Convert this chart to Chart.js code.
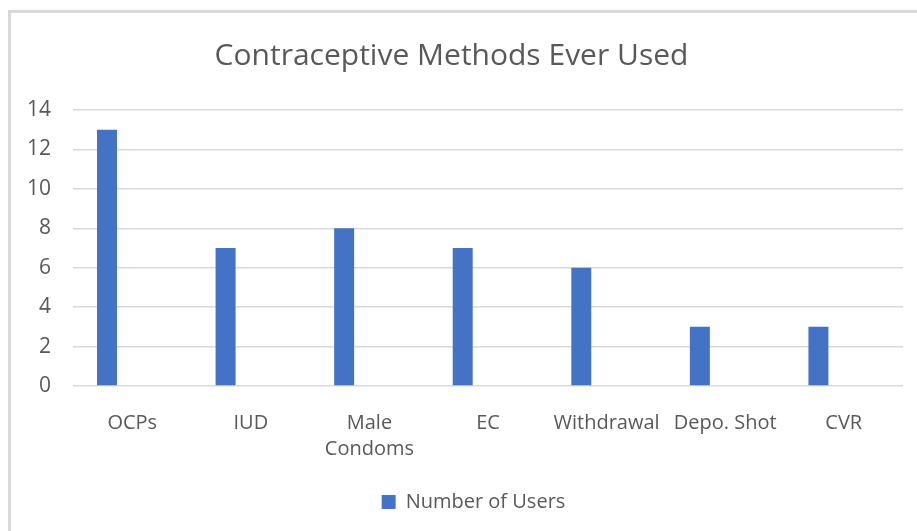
<!DOCTYPE html>
<html>
<head>
<meta charset="utf-8">
<title>Contraceptive Methods Ever Used</title>
<script src="https://cdn.jsdelivr.net/npm/chart.js@4/dist/chart.umd.min.js"></script>
<style>
    html, body { margin: 0; padding: 0; background: #fff; overflow: hidden; }
    #frame {
        position: absolute; left: 8px; top: 10px;
        width: 1000px; height: 600px;
        border-top: 3px solid #d9d9d9; border-left: 3px solid #d9d9d9;
    }
    #wrap { position: absolute; left: 0; top: 0; width: 917px; height: 531px; }
</style>
</head>
<body>
<div id="frame"></div>
<div id="wrap"><canvas id="methodsChart"></canvas></div>
<script>
// Chart data
const methods = ['OCPs', 'IUD', ['Male', 'Condoms'], 'EC', 'Withdrawal', 'Depo. Shot', 'CVR'];
const users = [13, 7, 8, 7, 6, 3, 3];
const yTicks = [0, 2, 4, 6, 8, 10, 12, 14];

const textColor = '#595959';
const barColor = '#4472C4';
const gridColor = '#d9d9d9';
const fontFamily = "'Open Sans', sans-serif";

// Excel puts the legend a bit right of centre, nudge it over
const shiftLegend = {
    id: 'shiftLegend',
    afterLayout(chart) {
        if (!chart.legend) return;
        chart.legend.left += 22;
        chart.legend.right += 22;
    }
};

const ctx = document.getElementById('methodsChart').getContext('2d');

new Chart(ctx, {
    type: 'bar',
    data: {
        labels: methods,
        datasets: [
            {
                label: 'Number of Users',
                data: users,
                backgroundColor: barColor,
                borderWidth: 0
            },
            {
                // empty second slot, keeps bars on the left like the original
                label: '',
                data: [],
                backgroundColor: 'rgba(0,0,0,0)'
            }
        ]
    },
    options: {
        responsive: true,
        maintainAspectRatio: false,
        animation: false,
        categoryPercentage: 0.853,
        barPercentage: 0.395,
        layout: { padding: { left: 0, right: 14, top: 0, bottom: 9 } },
        scales: {
            x: {
                grid: { display: false, drawTicks: false },
                border: { display: false },
                ticks: {
                    color: textColor,
                    font: { family: fontFamily, size: 20, lineHeight: 1.3 },
                    padding: 24,
                    maxRotation: 0,
                    autoSkip: false
                },
                afterFit: s => { s.height = 96; }
            },
            y: {
                min: 0,
                max: 14,
                afterBuildTicks: s => { s.ticks = yTicks.map(v => ({ value: v })); },
                grid: { color: gridColor, lineWidth: 1.5, drawTicks: false },
                border: { display: false },
                ticks: {
                    color: textColor,
                    font: { family: fontFamily, size: 21 },
                    padding: 22
                },
                afterFit: s => { s.width = 73; }
            }
        },
        plugins: {
            title: {
                display: true,
                text: 'Contraceptive Methods Ever Used',
                color: textColor,
                font: { family: fontFamily, size: 30, weight: 'normal', lineHeight: 1.2 },
                padding: { top: 38, bottom: 36 }
            },
            legend: {
                position: 'bottom',
                labels: {
                    color: textColor,
                    font: { family: fontFamily, size: 20 },
                    boxWidth: 14,
                    boxHeight: 14,
                    padding: 10,
                    filter: item => item.text !== ''
                }
            },
            tooltip: { enabled: false }
        }
    },
    plugins: [shiftLegend]
});
</script>
</body>
</html>
